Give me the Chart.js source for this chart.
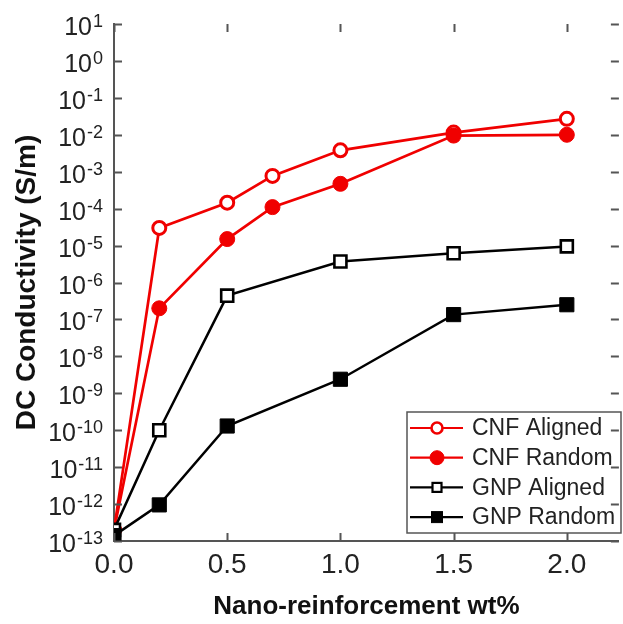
<!DOCTYPE html>
<html>
<head>
<meta charset="utf-8">
<script src="https://cdn.jsdelivr.net/npm/chart.js@4.4.1/dist/chart.umd.min.js"></script>
<style>
  html, body { margin: 0; padding: 0; background: #fff; overflow: hidden; }
  #wrap { width: 630px; height: 624px; }
</style>
</head>
<body>
<div id="wrap"><canvas id="chart" width="630" height="624"></canvas></div>
<script>
// --- data ---
const seriesNames = ['CNF Aligned', 'CNF Random', 'GNP Aligned', 'GNP Random'];

const cnfAlignedX = [0, 0.2, 0.5, 0.7, 1.0, 1.5, 2.0];
const cnfAlignedY = [2e-13, 3.0e-5, 1.45e-4, 7.7e-4, 3.8e-3, 1.15e-2, 2.7e-2];

const cnfRandomX = [0, 0.2, 0.5, 0.7, 1.0, 1.5, 2.0];
const cnfRandomY = [2e-13, 2.0e-7, 1.5e-5, 1.1e-4, 4.7e-4, 9.5e-3, 1.0e-2];

const gnpAlignedX = [0, 0.2, 0.5, 1.0, 1.5, 2.0];
const gnpAlignedY = [2e-13, 1.0e-10, 4.4e-7, 3.7e-6, 6.2e-6, 9.5e-6];

const gnpRandomX = [0, 0.2, 0.5, 1.0, 1.5, 2.0];
const gnpRandomY = [1.4e-13, 9.5e-13, 1.3e-10, 2.4e-9, 1.35e-7, 2.5e-7];

const xTicks = [0, 0.5, 1.0, 1.5, 2.0];
const yExponents = [1, 0, -1, -2, -3, -4, -5, -6, -7, -8, -9, -10, -11, -12, -13];

const RED = 'rgb(240,0,0)';
const BLACK = '#000';
const AXIS = '#555';
const FONT = '"Liberation Sans", Arial, sans-serif';

function toPoints(xs, ys) {
    return xs.map((x, i) => ({ x: x, y: ys[i] }));
}

const datasets = [
    {
        label: seriesNames[0],
        data: toPoints(cnfAlignedX, cnfAlignedY),
        borderColor: RED, borderWidth: 2.7,
        pointStyle: 'circle', pointRadius: 6.5, pointBorderWidth: 3,
        pointBackgroundColor: '#fff', pointBorderColor: RED,
        order: 4
    },
    {
        label: seriesNames[1],
        data: toPoints(cnfRandomX, cnfRandomY),
        borderColor: RED, borderWidth: 2.7,
        pointStyle: 'circle', pointRadius: 7.5, pointBorderWidth: 1,
        pointBackgroundColor: RED, pointBorderColor: RED,
        order: 3
    },
    {
        label: seriesNames[2],
        data: toPoints(gnpAlignedX, gnpAlignedY),
        borderColor: BLACK, borderWidth: 2.5,
        pointStyle: 'rect', pointRadius: 8.5, pointBorderWidth: 2.6,
        pointBackgroundColor: '#fff', pointBorderColor: BLACK,
        order: 2
    },
    {
        label: seriesNames[3],
        data: toPoints(gnpRandomX, gnpRandomY),
        borderColor: BLACK, borderWidth: 2.5,
        pointStyle: 'rect', pointRadius: 10, pointBorderWidth: 1,
        pointBackgroundColor: BLACK, pointBorderColor: BLACK,
        order: 1
    }
];

// 內向刻度、y 軸上標標籤、圖例
const decorPlugin = {
    id: 'decor',
    afterDraw(chart) {
        const ctx = chart.ctx;
        const xs = chart.scales.x;
        const ys = chart.scales.y;
        const a = chart.chartArea;
        const tl = 8;

        ctx.save();
        ctx.strokeStyle = AXIS;
        ctx.lineWidth = 2;
        ctx.beginPath();
        xTicks.forEach(v => {
            const px = Math.round(xs.getPixelForValue(v)) + 0.5;
            ctx.moveTo(px, a.bottom); ctx.lineTo(px, a.bottom - tl);
            ctx.moveTo(px, a.top); ctx.lineTo(px, a.top + tl);
        });
        yExponents.forEach(e => {
            const py = Math.round(ys.getPixelForValue(Math.pow(10, e))) + 0.5;
            ctx.moveTo(a.left, py); ctx.lineTo(a.left + tl, py);
            ctx.moveTo(a.right, py); ctx.lineTo(a.right - tl, py);
        });
        ctx.stroke();

        // y tick labels 10^n
        ctx.fillStyle = '#222';
        ctx.textBaseline = 'alphabetic';
        ctx.textAlign = 'right';
        const rightEdge = a.left - 11;
        yExponents.forEach(e => {
            const py = ys.getPixelForValue(Math.pow(10, e));
            const sup = e < 0 ? '-' + Math.abs(e) : String(e);
            ctx.font = '18px ' + FONT;
            const supW = ctx.measureText(sup).width;
            ctx.fillText(sup, rightEdge, py + 3);
            ctx.font = '25px ' + FONT;
            ctx.fillText('10', rightEdge - supW - 1, py + 11);
        });

        // legend
        const box = { left: 407, top: 412, right: 621, bottom: 533 };
        ctx.strokeStyle = AXIS;
        ctx.lineWidth = 1.5;
        ctx.strokeRect(box.left, box.top, box.right - box.left, box.bottom - box.top);
        const rowY0 = 428, rowStep = 29.7;
        chart.data.datasets.forEach((ds, i) => {
            const y = rowY0 + i * rowStep;
            ctx.strokeStyle = ds.borderColor;
            ctx.lineWidth = 2.2;
            ctx.beginPath();
            ctx.moveTo(410, y); ctx.lineTo(463, y);
            ctx.stroke();
            const mx = 437;
            ctx.fillStyle = ds.pointBackgroundColor;
            ctx.strokeStyle = ds.pointBorderColor;
            if (ds.pointStyle === 'circle') {
                ctx.lineWidth = ds.pointBorderWidth > 1 ? 2.6 : 1;
                ctx.beginPath();
                ctx.arc(mx, y, ds.pointBorderWidth > 1 ? 5.5 : 7, 0, Math.PI * 2);
                ctx.fill(); ctx.stroke();
            } else {
                const s = ds.pointBorderWidth > 1 ? 9 : 11;
                ctx.lineWidth = ds.pointBorderWidth > 1 ? 2.2 : 1;
                ctx.fillRect(mx - s / 2, y - s / 2, s, s);
                ctx.strokeRect(mx - s / 2, y - s / 2, s, s);
            }
            ctx.fillStyle = '#222';
            ctx.font = '23px ' + FONT;
            ctx.textAlign = 'left';
            ctx.textBaseline = 'middle';
            ctx.fillText(ds.label, 472, y + 1);
        });
        ctx.restore();
    }
};

new Chart(document.getElementById('chart'), {
    type: 'scatter',
    data: { datasets: datasets.map(d => Object.assign({ showLine: true, fill: false }, d)) },
    options: {
        responsive: false,
        devicePixelRatio: 1,
        animation: false,
        layout: { padding: { top: 24, right: 4, left: 0, bottom: 0 } },
        plugins: { legend: { display: false }, tooltip: { enabled: false } },
        scales: {
            x: {
                type: 'linear',
                min: 0,
                max: 2.23,
                afterBuildTicks: s => { s.ticks = xTicks.map(v => ({ value: v })); },
                afterFit: s => { s.height = 83; },
                grid: { display: false, drawTicks: false },
                border: { display: true, color: AXIS, width: 2 },
                ticks: {
                    color: '#222',
                    padding: 7,
                    font: { family: FONT, size: 28 },
                    maxRotation: 0,
                    callback: v => Number(v).toFixed(1)
                },
                title: {
                    display: true,
                    text: 'Nano-reinforcement wt%',
                    color: '#111',
                    font: { family: FONT, size: 26, weight: 'bold' },
                    padding: { top: 0, bottom: 2 }
                }
            },
            y: {
                type: 'logarithmic',
                min: 1e-13,
                max: 1e1,
                afterBuildTicks: s => { s.ticks = yExponents.map(e => ({ value: Math.pow(10, e) })); },
                afterFit: s => { s.width = 114; },
                grid: { display: false, drawTicks: false },
                border: { display: true, color: AXIS, width: 2 },
                ticks: { display: false },
                title: {
                    display: true,
                    text: 'DC Conductivity (S/m)',
                    color: '#111',
                    font: { family: FONT, size: 28, weight: 'bold' },
                    padding: { top: 10, bottom: 0 }
                }
            }
        }
    },
    plugins: [decorPlugin]
});
</script>
</body>
</html>
